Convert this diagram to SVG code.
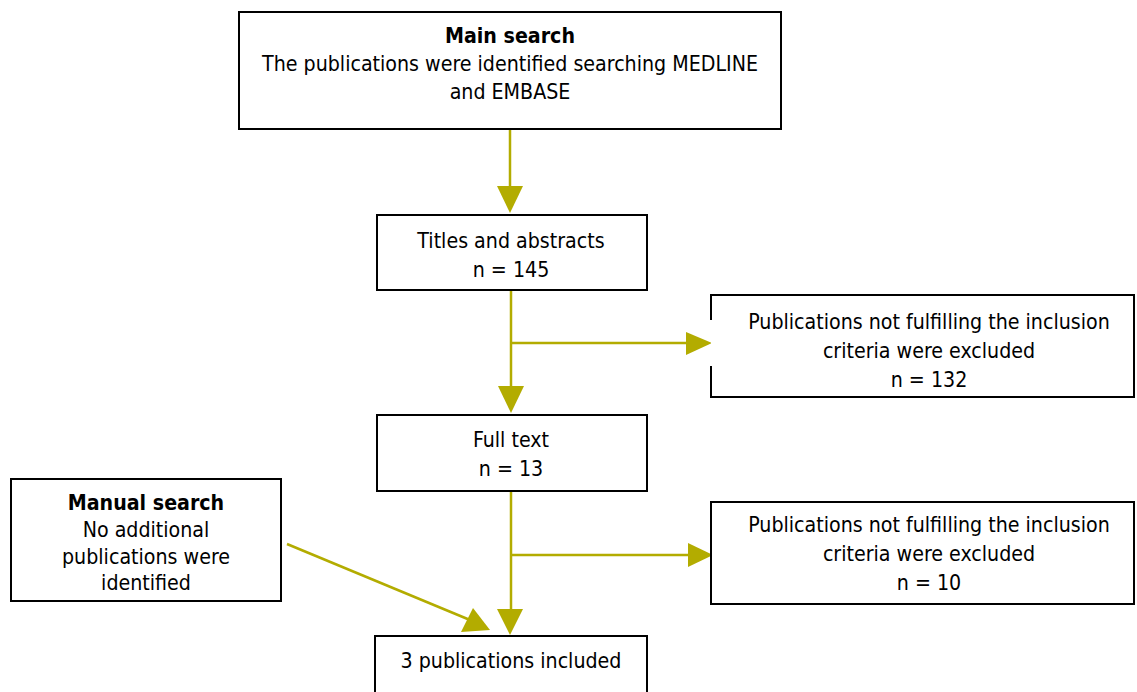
<svg xmlns="http://www.w3.org/2000/svg" width="1137" height="692" viewBox="0 0 1137 692">
<defs>
<style>
.box{fill:#fff;stroke:#000;stroke-width:2}
.t{font-family:"DejaVu Sans Condensed","DejaVu Sans",sans-serif;font-size:21.2px;fill:#000;text-anchor:middle}
.b{font-weight:bold}
.c{stroke:#B3AC00;stroke-width:2.5;fill:none}
.h{fill:#B3AC00;stroke:none}
</style>
</defs>
<rect width="1137" height="692" fill="#fff"/>
<g id="connectors">
<line class="c" x1="510" y1="129" x2="510" y2="190"/>
<polygon class="h" points="497,186 523,186 510,213"/>
<line class="c" x1="511" y1="290" x2="511" y2="390"/>
<polygon class="h" points="498,386 524,386 511,413"/>
<line class="c" x1="511" y1="343" x2="690" y2="343"/>
<polygon class="h" points="686,332 686,355 712,343"/>
<line class="c" x1="511" y1="491" x2="511" y2="612"/>
<polygon class="h" points="497,609 523,609 510,635"/>
<line class="c" x1="511" y1="555" x2="690" y2="555"/>
<polygon class="h" points="688,543 688,567 713,555"/>
<line class="c" x1="287" y1="544" x2="470" y2="620"/>
<polygon class="h" points="461,632 473,608 490,630"/>
</g>
<g id="main">
<rect class="box" x="239" y="12" width="542" height="117"/>
<text class="t b" x="510" y="43">Main search</text>
<text class="t" x="510" y="71">The publications were identified searching MEDLINE</text>
<text class="t" x="510" y="99">and EMBASE</text>
</g>
<g id="titles">
<rect class="box" x="377" y="215" width="270" height="75"/>
<text class="t" x="511" y="248">Titles and abstracts</text>
<text class="t" x="511" y="277">n = 145</text>
</g>
<g id="excluded1">
<path d="M711,320 V295 H1134 V397 H711 V366" fill="#fff" stroke="#000" stroke-width="2"/>
<text class="t" x="929" y="329">Publications not fulfilling the inclusion</text>
<text class="t" x="929" y="358">criteria were excluded</text>
<text class="t" x="929" y="387">n = 132</text>
</g>
<g id="fulltext">
<rect class="box" x="377" y="415" width="270" height="76"/>
<text class="t" x="511" y="447">Full text</text>
<text class="t" x="511" y="476">n = 13</text>
</g>
<g id="manual">
<rect class="box" x="11" y="479" width="270" height="122"/>
<text class="t b" x="146" y="510">Manual search</text>
<text class="t" x="146" y="537">No additional</text>
<text class="t" x="146" y="564">publications were</text>
<text class="t" x="146" y="590">identified</text>
</g>
<g id="excluded2">
<rect class="box" x="711" y="502" width="423" height="102"/>
<text class="t" x="929" y="532">Publications not fulfilling the inclusion</text>
<text class="t" x="929" y="561">criteria were excluded</text>
<text class="t" x="929" y="590">n = 10</text>
</g>
<g id="included">
<rect class="box" x="375" y="636" width="272" height="70"/>
<text class="t" x="511" y="668">3 publications included</text>
</g>
</svg>
